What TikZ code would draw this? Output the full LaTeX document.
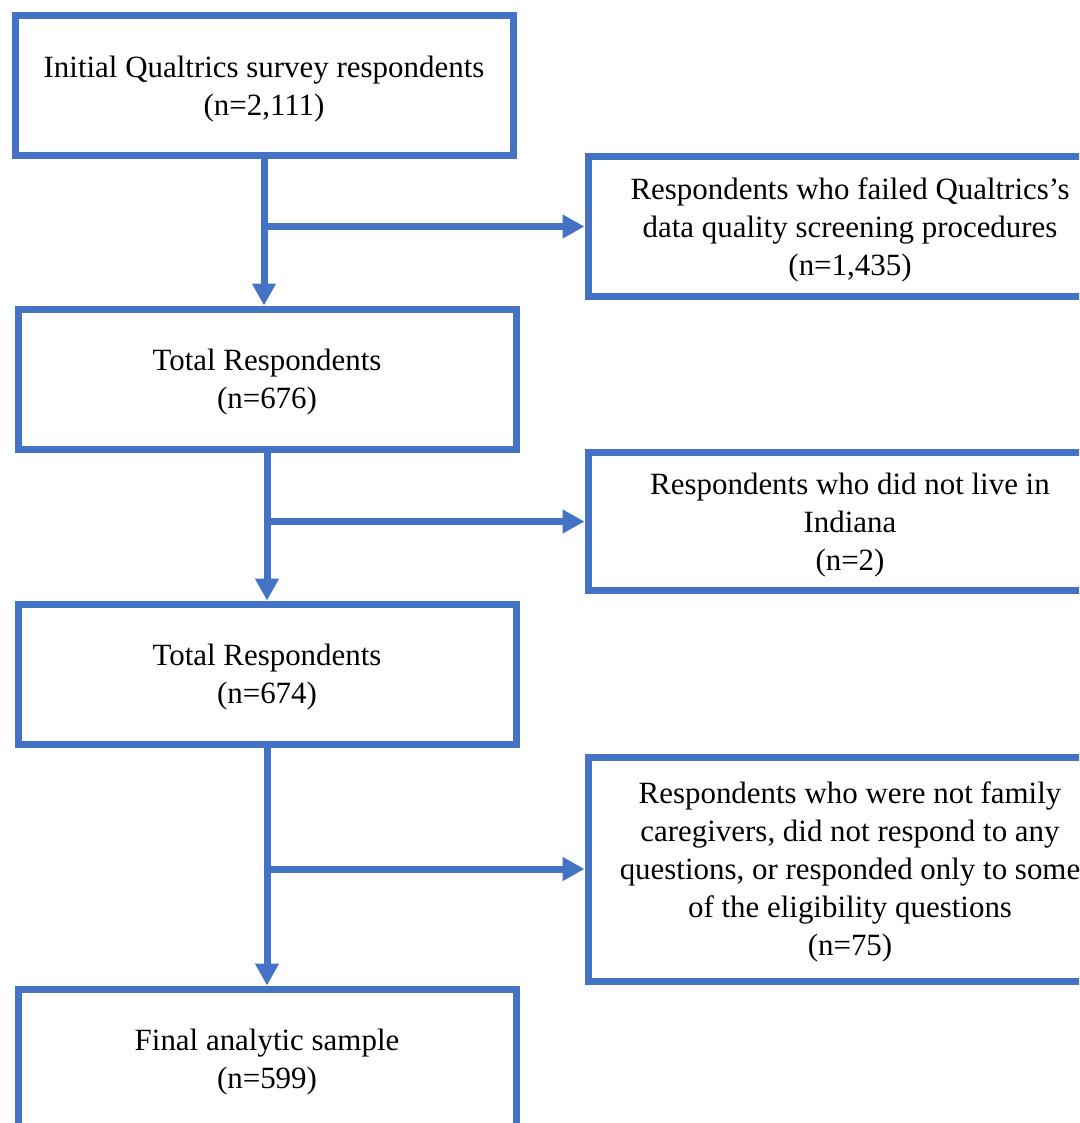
\documentclass[tikz,border=0pt]{standalone}
\usepackage{fontspec}
\setmainfont{Liberation Serif}
\usetikzlibrary{arrows.meta}
\definecolor{flowblue}{RGB}{68,114,196}

\begin{document}
\begin{tikzpicture}[x=0.75pt, y=-0.75pt,
  box/.style={draw=flowblue, line width=5.25pt, fill=white, align=center,
    minimum width=373.5pt, minimum height=105pt, inner sep=0pt,
    font=\fontsize{23.2pt}{28.5pt}\selectfont, text depth=-14pt},
  sidebox/.style={box, minimum width=393pt},
  flow/.style={flowblue, line width=5.25pt, -{Triangle[length=16.5pt, width=17pt]}}]
\clip (0,0) rectangle (1079,1123);

% Main column
\node[box] (initial) at (264,86) {Initial Qualtrics survey respondents\\(n=2,111)};
\node[box] (total1) at (267,379) {Total Respondents\\(n=676)};
\node[box] (total2) at (267,674) {Total Respondents\\(n=674)};
\node[box] (final) at (267,1059) {Final analytic sample\\(n=599)};

% Exclusions
\node[sidebox] (failed) at (850,226.5) {Respondents who failed Qualtrics's\\data quality screening procedures\\(n=1,435)};
\node[sidebox, minimum height=104pt] (indiana) at (850,521.5) {Respondents who did not live in\\Indiana\\(n=2)};
\node[sidebox, minimum height=168pt] (eligible) at (850,869) {Respondents who were not family\\caregivers, did not respond to any\\questions, or responded only to some\\of the eligibility questions\\(n=75)};

% Arrows down
\draw[flow] (initial.south) -- (initial.south |- total1.north);
\draw[flow] (total1.south) -- (total2.north);
\draw[flow] (total2.south) -- (final.north);

% Arrows out
\draw[flow] (initial |- failed) -- (failed.west);
\draw[flow] (total1 |- indiana) -- (indiana.west);
\draw[flow] (total2 |- eligible) -- (eligible.west);
\end{tikzpicture}
\end{document}
